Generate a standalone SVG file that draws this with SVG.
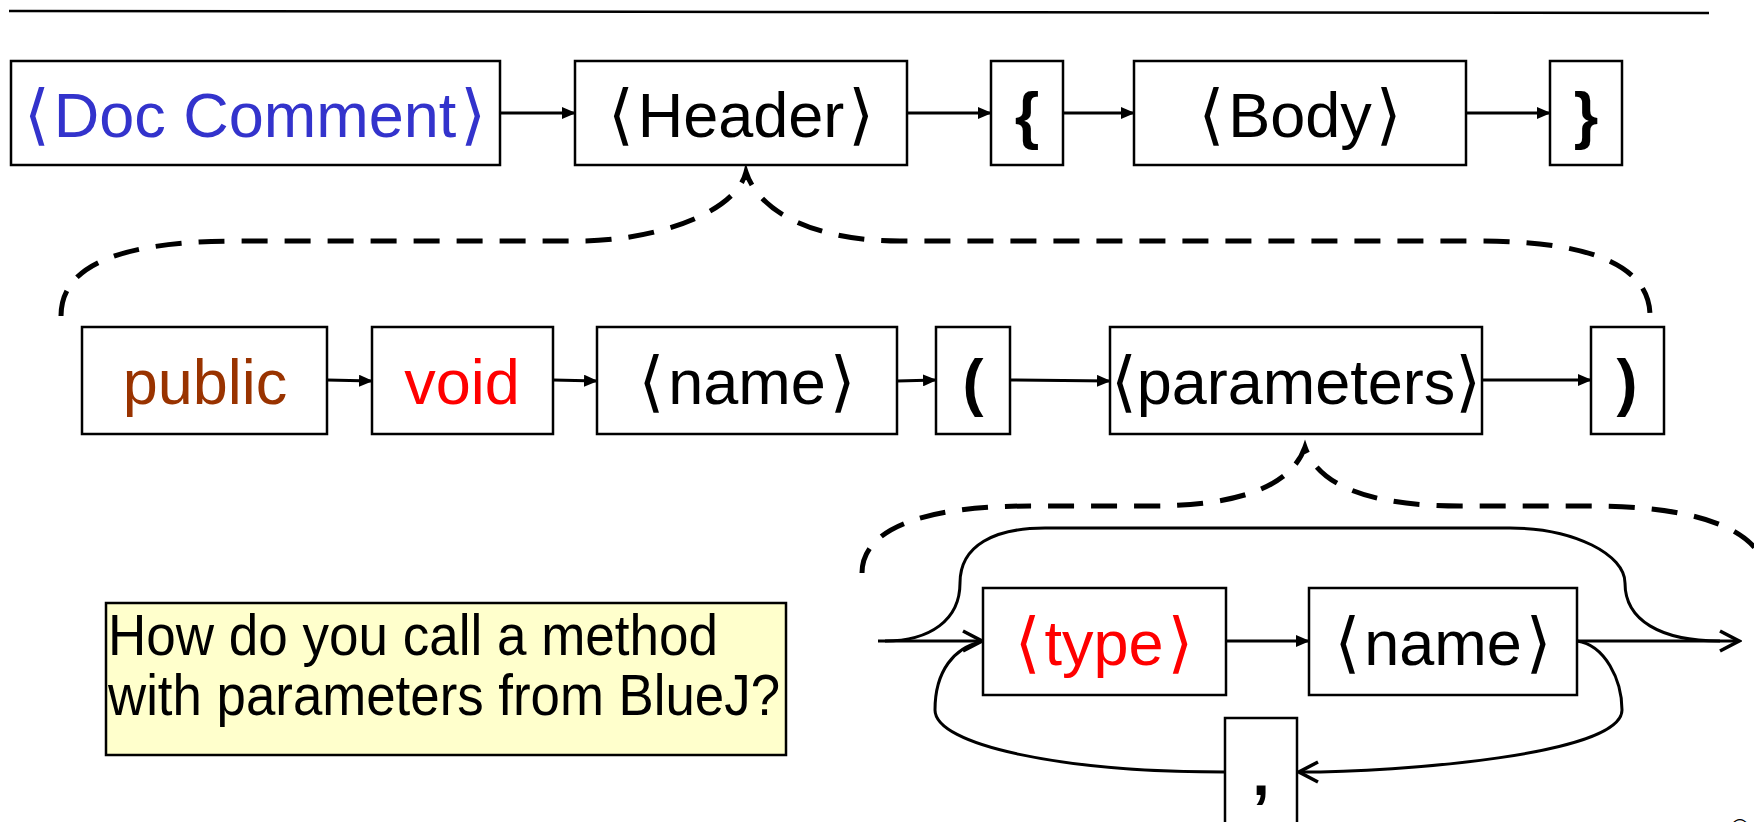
<svg xmlns="http://www.w3.org/2000/svg" width="1754" height="822" viewBox="0 0 1754 822">
<style>
.box{fill:#fff;stroke:#000;stroke-width:2.5}
.t{font-family:"Liberation Sans",Arial,sans-serif;font-size:63px;text-anchor:middle;fill:#000}
.br{font-family:"DejaVu Sans",sans-serif;font-size:66px}
.b{font-weight:bold}
.ln{fill:none;stroke:#000;stroke-width:3}
.dash{fill:none;stroke:#000;stroke-width:5;stroke-dasharray:26 17}
.q{font-family:"Liberation Sans",Arial,sans-serif;font-size:58px}
</style>
<defs>
<marker id="arr" viewBox="0 0 14 12" refX="13" refY="6" markerWidth="14" markerHeight="12" markerUnits="userSpaceOnUse" orient="auto">
<path d="M0,0 L14,6 L0,12 z" fill="#000"/>
</marker>
<marker id="open" viewBox="0 0 24 24" refX="21" refY="12" markerWidth="24" markerHeight="24" markerUnits="userSpaceOnUse" orient="auto">
<path d="M2,2 L21,12 L2,22" fill="none" stroke="#000" stroke-width="3.5"/>
</marker>
</defs>
<line x1="9" y1="11" x2="1709" y2="13" stroke="#000" stroke-width="2.5"/>
<g id="connectors">
<line class="ln" x1="500" y1="113" x2="575" y2="113" marker-end="url(#arr)"/>
<line class="ln" x1="907" y1="113" x2="991" y2="113" marker-end="url(#arr)"/>
<line class="ln" x1="1063" y1="113" x2="1134" y2="113" marker-end="url(#arr)"/>
<line class="ln" x1="1466" y1="113" x2="1550" y2="113" marker-end="url(#arr)"/>
<line class="ln" x1="327" y1="380" x2="372" y2="381" marker-end="url(#arr)"/>
<line class="ln" x1="553" y1="380" x2="597" y2="381" marker-end="url(#arr)"/>
<line class="ln" x1="897" y1="381" x2="936" y2="380" marker-end="url(#arr)"/>
<line class="ln" x1="1010" y1="380" x2="1110" y2="381" marker-end="url(#arr)"/>
<line class="ln" x1="1482" y1="380" x2="1591" y2="380" marker-end="url(#arr)"/>
<path class="dash" d="M61 316 C61 265 120 241 240 241 L580 241 C650 241 735 215 746 172 C760 215 820 241 900 241 L1480 241 C1600 241 1650 270 1650 316"/>
<path class="dash" d="M862 573 C862 530 920 506 1030 506 L1150 506 C1230 506 1290 490 1305 447 C1320 490 1380 506 1460 506 L1590 506 C1700 506 1765 530 1768 580"/>
<line class="ln" x1="878" y1="641" x2="982" y2="641" marker-end="url(#open)"/>
<line class="ln" x1="1226" y1="641" x2="1309" y2="641" marker-end="url(#arr)"/>
<line class="ln" x1="1577" y1="641" x2="1739" y2="641" marker-end="url(#open)"/>
<path class="ln" d="M885 641 C930 641 960 620 960 583 C960 545 995 528 1045 528 L1510 528 C1575 528 1625 555 1625 583 C1625 620 1660 641 1720 641"/>
<path class="ln" d="M1577 641 C1605 645 1622 680 1622 710 C1622 755 1400 772 1299 772" marker-end="url(#open)"/>
<path class="ln" d="M1225 772 C1060 772 935 745 935 710 C935 670 955 648 980 642"/>
</g>
<g id="doc"><rect class="box" x="11" y="61" width="489" height="104"/><text class="t" x="255" y="137" style="fill:#3333CC"><tspan class="br">⟨</tspan><tspan dx="4">Doc Comment</tspan><tspan class="br" dx="4">⟩</tspan></text></g>
<g id="header"><rect class="box" x="575" y="61" width="332" height="104"/><text class="t" x="741" y="137"><tspan class="br">⟨</tspan><tspan dx="4">Header</tspan><tspan class="br" dx="4">⟩</tspan></text></g>
<g id="lbrace"><rect class="box" x="991" y="61" width="72" height="104"/><text class="t b" x="1027" y="137">{</text></g>
<g id="body"><rect class="box" x="1134" y="61" width="332" height="104"/><text class="t" x="1300" y="137"><tspan class="br">⟨</tspan><tspan dx="4">Body</tspan><tspan class="br" dx="4">⟩</tspan></text></g>
<g id="rbrace"><rect class="box" x="1550" y="61" width="72" height="104"/><text class="t b" x="1586" y="137">}</text></g>
<g id="public"><rect class="box" x="82" y="327" width="245" height="107"/><text class="t" x="205" y="404" style="fill:#993300">public</text></g>
<g id="void"><rect class="box" x="372" y="327" width="181" height="107"/><text class="t" x="462" y="404" style="fill:#FF0000">void</text></g>
<g id="name1"><rect class="box" x="597" y="327" width="300" height="107"/><text class="t" x="747" y="404"><tspan class="br">⟨</tspan><tspan dx="4">name</tspan><tspan class="br" dx="4">⟩</tspan></text></g>
<g id="lparen"><rect class="box" x="936" y="327" width="74" height="107"/><text class="t b" x="973" y="404">(</text></g>
<g id="parameters"><rect class="box" x="1110" y="327" width="372" height="107"/><text class="t" x="1296" y="404"><tspan class="br">⟨</tspan>parameters<tspan class="br">⟩</tspan></text></g>
<g id="rparen"><rect class="box" x="1591" y="327" width="73" height="107"/><text class="t b" x="1627" y="404">)</text></g>
<g id="type"><rect class="box" x="983" y="588" width="243" height="107"/><text class="t" x="1104" y="665" style="fill:#FF0000"><tspan class="br">⟨</tspan><tspan dx="4">type</tspan><tspan class="br" dx="4">⟩</tspan></text></g>
<g id="name2"><rect class="box" x="1309" y="588" width="268" height="107"/><text class="t" x="1443" y="665"><tspan class="br">⟨</tspan><tspan dx="4">name</tspan><tspan class="br" dx="4">⟩</tspan></text></g>
<g id="comma"><rect class="box" x="1225" y="718" width="72" height="107"/><text class="t b" x="1261" y="795">,</text></g>
<g id="question"><rect x="106" y="603" width="680" height="152" fill="#FFFFCC" stroke="#000" stroke-width="2.5"/>
<text class="q" x="108" y="655" textLength="610" lengthAdjust="spacingAndGlyphs">How do you call a method</text>
<text class="q" x="108" y="715" textLength="672" lengthAdjust="spacingAndGlyphs">with parameters from BlueJ?</text></g>
<text x="1731" y="836" style="font-family:'Liberation Sans',Arial,sans-serif;font-size:24px">©</text>
</svg>
